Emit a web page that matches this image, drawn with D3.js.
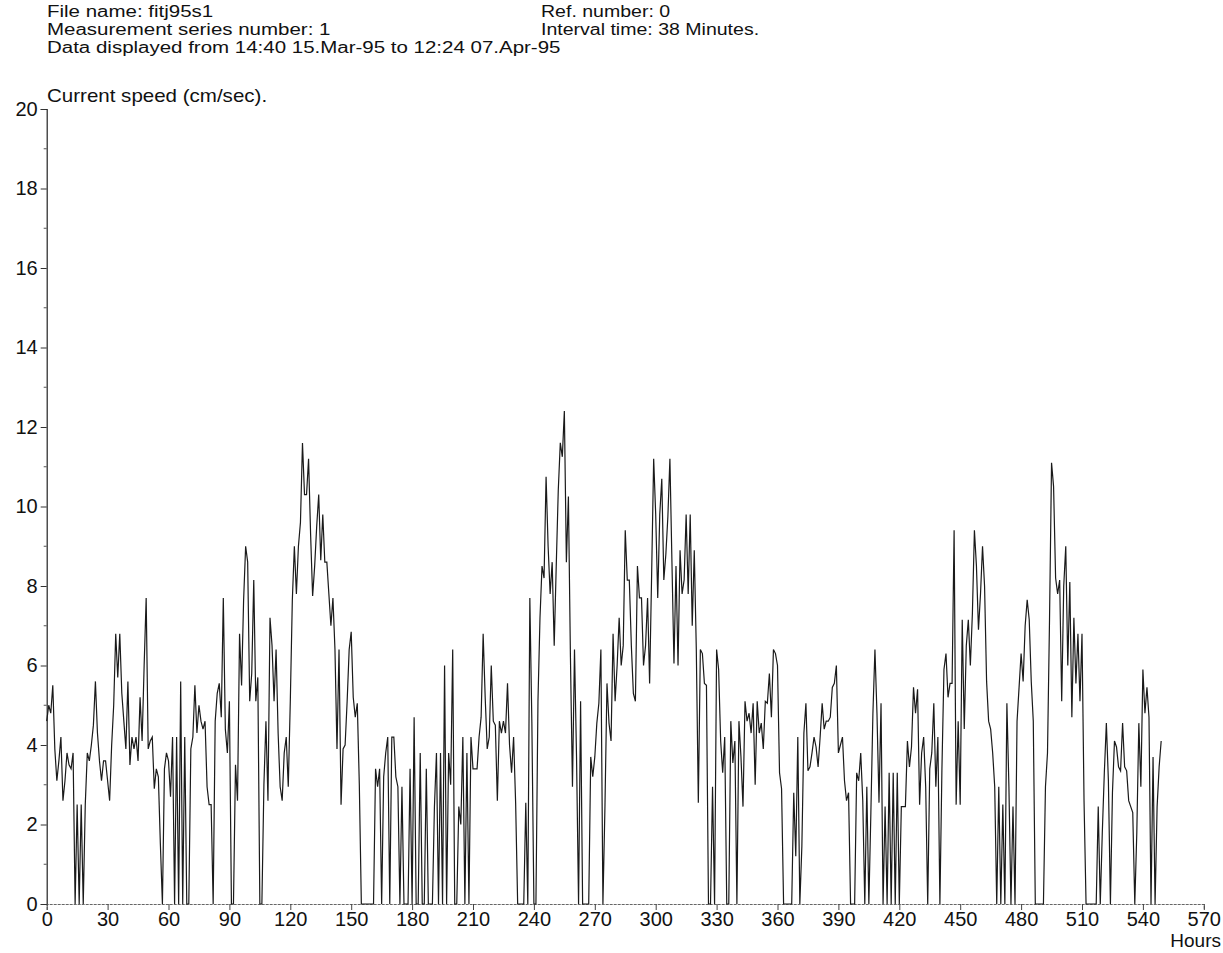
<!DOCTYPE html>
<html>
<head>
<meta charset="utf-8">
<script src="https://cdn.jsdelivr.net/npm/d3@7"></script>
<style>
  html, body { margin: 0; padding: 0; background: #fff; }
  svg { display: block; }
  text { font-family: "Liberation Sans", Arial, Helvetica, sans-serif; fill: #111; }
</style>
</head>
<body>
<svg id="chart" width="1223" height="953"></svg>
<script>
// ---- data ----
const headerLeft = [
  "File name: fitj95s1",
  "Measurement series number: 1",
  "Data displayed from 14:40 15.Mar-95 to 12:24 07.Apr-95"
];
const headerRight = [
  "Ref. number: 0",
  "Interval time: 38 Minutes."
];
const yTitle = "Current speed (cm/sec).";
const xTitle = "Hours";
const xTicks = [0, 30, 60, 90, 120, 150, 180, 210, 240, 270, 300, 330, 360, 390, 420, 450, 480, 510, 540, 570];
const yTicks = [0, 2, 4, 6, 8, 10, 12, 14, 16, 18, 20];
const yMinorTicks = [1, 3, 5, 7, 9, 11, 13, 15, 17, 19];
const startHour = 0;      // first sample, hours
const sampleStep = 1;     // hours between listed samples
// current speed (cm/sec), one value per hour from hour 0
const speed = [
  4.6, 5.0, 4.8, 5.5, 3.9, 3.1, 3.6, 4.2, 2.6, 3.1,
  3.8, 3.5, 3.4, 3.8, 0, 2.5, 0, 2.5, 0, 2.5,
  3.8, 3.6, 4.0, 4.5, 5.6, 4.3, 3.6, 3.1, 3.6, 3.6,
  3.1, 2.6, 4.0, 5.0, 6.8, 5.7, 6.8, 5.3, 4.6, 3.9,
  5.6, 3.5, 4.2, 3.9, 4.2, 3.6, 5.2, 4.1, 6.0, 7.7,
  3.9, 4.1, 4.2, 2.9, 3.4, 3.2, 1.5, 0, 3.4, 3.8,
  3.6, 2.7, 4.2, 0, 4.2, 0, 5.6, 0, 4.2, 0,
  0, 3.9, 4.2, 5.5, 4.3, 5.0, 4.6, 4.4, 4.6, 2.95,
  2.5, 2.5, 0, 4.6, 5.3, 5.55, 4.7, 7.7, 4.4, 3.8,
  5.1, 0, 0, 3.5, 2.6, 6.8, 5.5, 7.65, 9.0, 8.6,
  5.1, 5.8, 8.15, 5.1, 5.7, 0, 0, 3.0, 4.6, 2.6,
  7.2, 6.5, 5.1, 6.4, 4.3, 2.95, 2.6, 3.8, 4.2, 2.95,
  5.1, 7.65, 9.0, 7.8, 9.0, 9.6, 11.6, 10.3, 10.3, 11.2,
  9.3, 7.75, 8.5, 9.5, 10.3, 8.65, 9.8, 8.6, 8.6, 7.8,
  7.0, 7.7, 6.4, 3.9, 6.4, 2.5, 3.9, 4.0, 5.1, 6.4,
  6.85, 5.2, 4.7, 5.05, 3.0, 0, 0, 0, 0, 0,
  0, 0, 3.4, 2.95, 3.4, 0, 3.2, 3.8, 4.2, 0,
  4.2, 4.2, 3.2, 2.95, 0, 2.95, 0, 0, 0, 3.4,
  0, 4.7, 0, 0, 3.8, 0, 0, 3.4, 0, 0,
  0, 2.45, 3.8, 0, 3.8, 0, 6.0, 0, 3.8, 3.0,
  6.4, 0, 0, 2.45, 2.0, 4.2, 0, 3.8, 0, 4.2,
  3.4, 3.4, 3.4, 4.2, 4.7, 6.8, 5.2, 3.9, 4.2, 6.0,
  4.6, 4.5, 2.6, 4.6, 4.3, 4.6, 4.3, 5.55, 4.0, 3.3,
  4.2, 2.55, 0, 0, 0, 0, 2.55, 0, 7.7, 4.55,
  0, 0, 5.1, 7.2, 8.5, 8.2, 10.75, 9.0, 7.8, 8.6,
  6.5, 8.5, 10.4, 11.6, 11.25, 12.4, 8.6, 10.25, 6.2, 2.95,
  6.4, 3.7, 0, 5.1, 0, 0, 0, 0, 3.7, 3.2,
  3.7, 4.55, 5.05, 6.4, 0, 2.45, 5.55, 4.55, 4.1, 6.8,
  5.1, 6.0, 7.2, 6.0, 6.5, 9.4, 8.15, 8.15, 6.5, 5.3,
  5.1, 8.5, 7.7, 7.7, 6.0, 6.5, 7.7, 5.55, 8.3, 11.2,
  9.8, 7.7, 9.8, 10.7, 8.15, 8.8, 9.75, 11.2, 8.6, 6.05,
  8.5, 6.0, 8.9, 7.8, 8.15, 9.8, 7.8, 9.8, 7.0, 8.9,
  6.4, 2.55, 6.4, 6.3, 5.55, 5.5, 0, 0, 2.95, 0,
  6.4, 5.9, 4.1, 3.3, 4.2, 0, 0, 4.6, 3.55, 4.1,
  0, 4.6, 3.7, 2.45, 5.1, 4.6, 4.8, 4.3, 5.05, 3.0,
  5.1, 4.3, 4.55, 3.9, 5.1, 5.05, 5.8, 4.7, 6.4, 6.3,
  6.0, 3.3, 2.9, 0, 0, 0, 0, 0, 2.8, 1.2,
  4.2, 0, 1.45, 4.3, 5.05, 3.35, 3.45, 3.8, 4.2, 3.95,
  3.45, 4.2, 5.05, 4.4, 4.6, 4.6, 4.7, 5.45, 5.55, 6.0,
  3.8, 4.0, 4.2, 3.1, 2.6, 2.8, 0, 0, 0, 3.3,
  3.1, 3.8, 2.6, 0, 2.95, 0, 2.3, 4.8, 6.4, 4.8,
  2.55, 5.05, 0, 2.45, 0, 3.3, 0, 3.3, 0, 3.3,
  0, 2.45, 2.45, 2.45, 4.1, 3.45, 3.95, 5.45, 4.8, 5.4,
  2.5, 3.8, 4.2, 2.95, 0, 3.4, 3.8, 5.05, 2.95, 4.2,
  0, 3.4, 5.9, 6.3, 5.2, 5.55, 5.55, 9.4, 2.5, 4.6,
  2.5, 7.15, 4.4, 6.5, 7.15, 6.0, 7.3, 9.4, 8.5, 6.9,
  7.8, 9.0, 8.0, 5.6, 4.6, 4.4, 3.8, 2.95, 0, 2.95,
  0, 2.5, 0, 5.05, 2.95, 0, 2.45, 0, 4.6, 5.45,
  6.3, 5.6, 7.0, 7.65, 7.15, 5.6, 4.6, 0, 0, 0,
  0, 0, 2.95, 3.8, 7.15, 11.1, 10.5, 8.2, 7.8, 8.15,
  5.1, 8.0, 9.0, 6.0, 8.1, 4.7, 7.2, 5.55, 6.8, 5.1,
  6.8, 2.6, 0, 0, 0, 0, 0, 0, 2.45, 0,
  1.8, 3.3, 4.55, 3.1, 0, 2.8, 4.1, 3.95, 3.45, 3.35,
  4.55, 3.45, 3.35, 2.6, 2.45, 2.3, 0, 1.8, 4.55, 2.95,
  5.9, 4.8, 5.45, 4.7, 0, 3.7, 0, 2.45, 3.45, 4.1
];

// ---- layout ----
const svg = d3.select("#chart");
const x = d3.scaleLinear().domain([0, 570]).range([46.7, 1203.8]);
const y = d3.scaleLinear().domain([0, 20]).range([904, 109]);
const FONT = 19;
const HFONT = 16;        // header glyph height
const HGAP = 18;

// header (widened type, tight lines like the original print)
function stretch(sel, k) {
  sel.each(function () {
    const w = this.getComputedTextLength();
    d3.select(this).attr("textLength", w * k).attr("lengthAdjust", "spacingAndGlyphs");
  });
}
const hdr = svg.append("g").attr("font-size", HFONT);
hdr.selectAll("text.hl").data(headerLeft).join("text")
  .attr("class", "hl").attr("x", 47).attr("y", (d, i) => 17 + i * HGAP).text(d => d)
  .call(stretch, 1.28);
hdr.selectAll("text.hr").data(headerRight).join("text")
  .attr("class", "hr").attr("x", 541).attr("y", (d, i) => 17 + i * HGAP).text(d => d)
  .call(stretch, 1.22);
svg.append("text").attr("x", 47).attr("y", 102).attr("font-size", FONT).text(yTitle)
  .call(stretch, 1.08);

// y axis
const yAxis = d3.axisLeft(y).tickValues(yTicks).tickSize(6).tickPadding(3).tickFormat(d3.format("d"));
const gy = svg.append("g").attr("transform", `translate(${x(0)},0)`).call(yAxis);
gy.select(".domain").attr("stroke", "#222").attr("stroke-width", 1.2);
gy.selectAll(".tick line").attr("stroke", "#333");
gy.selectAll(".tick text").attr("font-size", FONT + 1).attr("fill", "#111")
  .attr("font-family", "'Liberation Sans', Arial, sans-serif");
gy.selectAll("line.minor").data(yMinorTicks).join("line").attr("class", "minor")
  .attr("x1", -3).attr("x2", 0).attr("y1", d => y(d)).attr("y2", d => y(d)).attr("stroke", "#555");

// x axis
const xAxis = d3.axisBottom(x).tickValues(xTicks).tickSize(6).tickPadding(2).tickFormat(d3.format("d"));
const gx = svg.append("g").attr("transform", `translate(0,${y(0)})`).call(xAxis);
gx.select(".domain").attr("stroke", "#666").attr("stroke-width", 1).attr("stroke-dasharray", "3,1");
gx.selectAll(".tick line").attr("stroke", "#444");
gx.selectAll(".tick text").attr("font-size", FONT + 1).attr("fill", "#111")
  .attr("font-family", "'Liberation Sans', Arial, sans-serif");
svg.append("text").attr("x", 1221).attr("y", 947).attr("text-anchor", "end")
  .attr("font-size", FONT).text(xTitle);

// series
const line = d3.line()
  .x((d, i) => x(startHour + i * sampleStep))
  .y(d => y(d));
svg.append("path").datum(speed)
  .attr("fill", "none").attr("stroke", "#1a1a1a").attr("stroke-width", 1.2)
  .attr("stroke-linejoin", "miter").attr("d", line);
</script>
</body>
</html>
